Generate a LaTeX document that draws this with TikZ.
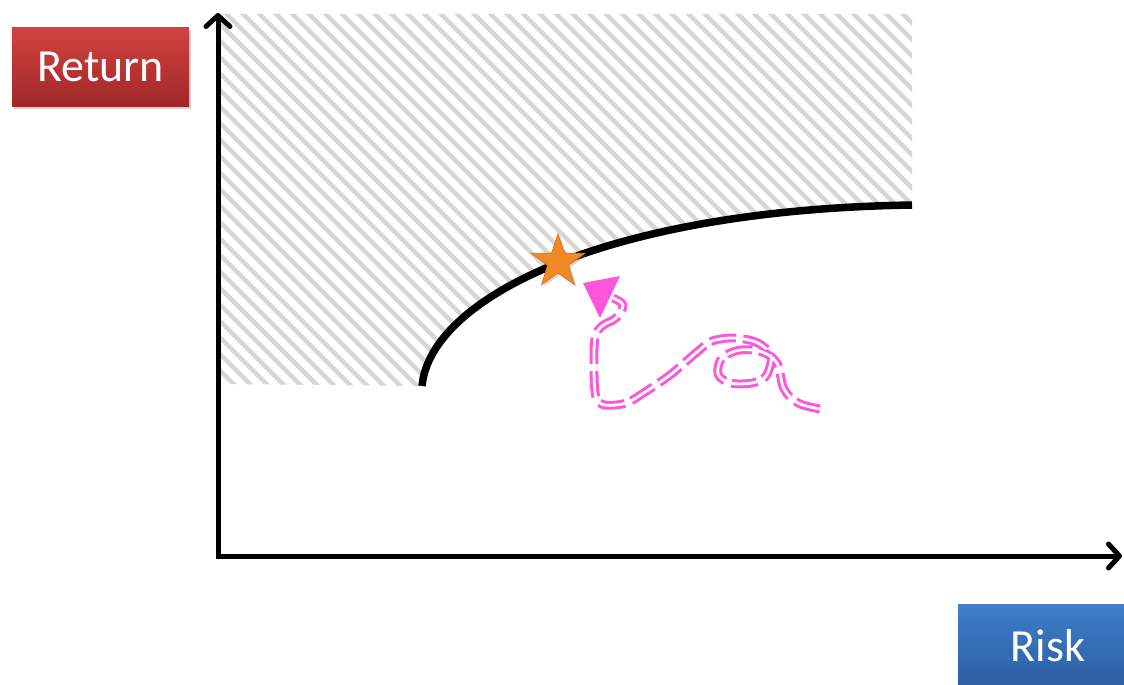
\documentclass[tikz,border=0pt]{standalone}
\usepackage{fontspec}
\setmainfont{Carlito}
\usetikzlibrary{arrows.meta,shapes.geometric,shadows}
\definecolor{hatchgray}{RGB}{214,214,214}
\definecolor{magentaline}{RGB}{255,85,221}
\definecolor{starorange}{RGB}{240,138,40}
\definecolor{starborder}{RGB}{226,118,26}
\definecolor{redtop}{RGB}{210,66,64}
\definecolor{redbot}{RGB}{160,40,40}
\definecolor{bluetop}{RGB}{62,126,202}
\definecolor{bluebot}{RGB}{44,92,158}
\tikzset{
  labelbox/.style={minimum width=177pt, minimum height=78pt, inner sep=0pt,
    text=white, font=\fontsize{46}{50}\selectfont,
    drop shadow={shadow xshift=2pt, shadow yshift=-3pt, opacity=0.35}},
  axisline/.style={line width=5pt, -{Straight Barb[length=11pt,width=24pt,round]}},
  frontier/.style={line width=7.5pt},
  hatchline/.style={hatchgray, line width=4.3pt},
  walkline/.style={draw=magentaline, double=white, line width=3pt,
    double distance=2.8pt, dash pattern=on 26pt off 7pt},
  starmark/.style={star, star points=5, star point ratio=2.55, minimum size=56pt,
    inner sep=0pt, fill=starorange, draw=starborder, line width=0.8pt,
    drop shadow={shadow xshift=2pt, shadow yshift=-2pt, opacity=0.3}}
}
\begin{document}
\begin{tikzpicture}[x=1pt,y=-1pt]
\useasboundingbox (0,0) rectangle (1124,685);
\fill[white] (0,0) rectangle (1124,685);

% frontier end points
\coordinate (c0) at (422,386);
\coordinate (c1) at (912,205);

% hatched region
\begin{scope}
  \clip (221,14) -- (912,14) -- (c1) .. controls (600,210) and (430,300) .. (c0) -- (221,384) -- cycle;
  \foreach \i in {0,...,70} {
    \draw[hatchline] ({-200+\i*16.5},0) -- ++(800,800);
  }
\end{scope}

% axes
\coordinate (Ybot) at (218,558.5);
\coordinate (Xleft) at (215.5,556);
\coordinate (Ytip) at (218,13);
\coordinate (Xtip) at (1122,556);
\draw[axisline] (Ybot) -- (Ytip);
\draw[axisline] (Xleft) -- (Xtip);

% efficient frontier
\draw[frontier] (c0) .. controls (430,300) and (600,210) .. (c1);

% random walk path
\coordinate (w0) at (820,409);
\coordinate (w1) at (798,403);
\coordinate (w2) at (784,389);
\coordinate (w3) at (777,363);
\coordinate (w4) at (762,352);
\coordinate (w5) at (740,350);
\coordinate (w6) at (722,358);
\coordinate (w7) at (718,374);
\coordinate (w8) at (730,383);
\coordinate (w9) at (752,383);
\coordinate (w10) at (766,376);
\coordinate (w11) at (771,356);
\coordinate (w12) at (758,343);
\coordinate (w13) at (735,338);
\coordinate (w14) at (712,341);
\coordinate (w15) at (697,352);
\coordinate (w16) at (670,375);
\coordinate (w17) at (645,392);
\coordinate (w18) at (626,403);
\coordinate (w19) at (605,405);
\coordinate (w20) at (596,397);
\coordinate (w21) at (594,370);
\coordinate (w22) at (595,338);
\coordinate (w23) at (602,326);
\coordinate (w24) at (616,318);
\coordinate (w25) at (623,305);
\coordinate (w26) at (613,298);
\draw[walkline] plot[smooth, tension=0.55] coordinates {(w0) (w1) (w2) (w3) (w4) (w5) (w6) (w7) (w8) (w9) (w10) (w11) (w12) (w13) (w14) (w15) (w16) (w17) (w18) (w19) (w20) (w21) (w22) (w23) (w24) (w25) (w26)};

% arrow head of the walk
\coordinate (t1) at (583,283);
\coordinate (t2) at (620,276);
\coordinate (t3) at (600,318);
\fill[magentaline] (t1) -- (t2) -- (t3) -- cycle;

% star on the frontier
\node[starmark] (star) at (558,262) {};

% axis labels
\node[labelbox, top color=redtop, bottom color=redbot] (ret) at (100.5,67) {Return};
\node[labelbox, minimum height=90pt, minimum width=180pt, top color=bluetop, bottom color=bluebot] (risk) at (1048,649) {\raisebox{6pt}{Risk}};
\end{tikzpicture}
\end{document}
